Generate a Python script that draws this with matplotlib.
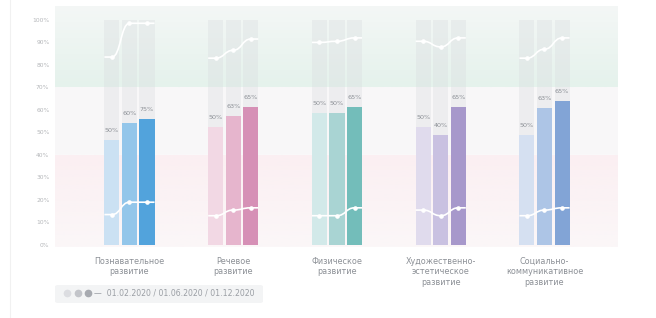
import numpy as np
import matplotlib
matplotlib.use("Agg")
import matplotlib.pyplot as plt
from matplotlib.path import Path
from matplotlib.patches import PathPatch, FancyBboxPatch
from matplotlib.lines import Line2D

plt.rcParams['font.family'] = ['DejaVu Sans']

## Data

categories = ["Познавательное\nразвитие", "Речевое\nразвитие", "Физическое\nразвитие",
              "Художественно-\nэстетическое\nразвитие", "Социально-\nкоммуникативное\nразвитие"]
dates = ["01.02.2020", "01.06.2020", "01.12.2020"]

# bar heights (%) for the three dates
bar_values = np.array([[46.5, 54, 56],
                       [52.5, 57.5, 61.5],
                       [58.5, 58.5, 61.5],
                       [52.5, 49, 61.5],
                       [49, 61, 64]])
# labels printed above bars
bar_labels = [["50%", "60%", "75%"],
              ["50%", "63%", "65%"],
              ["50%", "50%", "65%"],
              ["50%", "40%", "65%"],
              ["50%", "63%", "65%"]]
# upper and lower white lines (%)
upper_line = np.array([[83.5, 98.5, 98.5],
                       [83, 86.5, 91.5],
                       [90, 90.5, 92],
                       [90.5, 88, 92],
                       [83, 87, 92]])
lower_line = np.array([[13.5, 19, 19],
                       [13, 15.5, 16.5],
                       [13, 13, 16.5],
                       [15.5, 13, 16.5],
                       [13, 15.5, 16.5]])

colors = [["#cbe1f3", "#93c6ea", "#52a3dc"],
          ["#f2d8e4", "#e6b5cd", "#d690b6"],
          ["#d2e9e9", "#a9d4d3", "#73bdba"],
          ["#e0dbed", "#c9c1e1", "#a798cb"],
          ["#d5e0f1", "#adc5e6", "#82a4d6"]]

y_ticks = np.arange(0, 101, 10)

## Figure

fig = plt.figure(figsize=(6.56, 3.18), dpi=100)
ax = fig.add_axes([0.0838, 0.2233, 0.8582, 0.758])
ax.set_xlim(-0.718, 4.708)
ax.set_ylim(-0.9, 106.2)

# background bands (gradients)
def band(y0, y1, c_low, c_high):
    cmap = matplotlib.colors.LinearSegmentedColormap.from_list("b", [c_low, c_high])
    grad = np.linspace(0, 1, 64).reshape(-1, 1)
    ax.imshow(grad, cmap=cmap, aspect="auto", origin="lower",
              extent=(-0.718, 4.708, y0, y1), zorder=0)

band(-0.9, 40, "#fbf7f8", "#fbeff2")
band(40, 70, "#f9f8f9", "#f8f7f8")
band(70, 106.2, "#e5f2ec", "#f4f7f6")

x = np.arange(len(categories))
offset = 0.169
width = 0.145

for i in range(len(categories)):
    xs = x[i] + (np.arange(3) - 1) * offset
    # gray full-height columns
    ax.bar(xs, 100, width, color="#d9dcdf", alpha=0.35, zorder=1, linewidth=0)
    ax.bar(xs, bar_values[i], width, color=colors[i], zorder=2, linewidth=0)
    for j in range(3):
        ax.annotate(bar_labels[i][j], (xs[j], bar_values[i][j]), xytext=(0, 5),
                    textcoords="offset points", ha="center", va="bottom",
                    fontsize=4.6, color="#8c9096", zorder=5)
    # smooth white lines
    for line in (upper_line[i], lower_line[i]):
        verts = [(xs[0] - width / 2, line[0]), (xs[0], line[0])]
        codes = [Path.MOVETO, Path.LINETO]
        for j in range(2):
            xm = (xs[j] + xs[j + 1]) / 2
            verts += [(xm, line[j]), (xm, line[j + 1]), (xs[j + 1], line[j + 1])]
            codes += [Path.CURVE4] * 3
        verts.append((xs[2] + width / 2, line[2]))
        codes.append(Path.LINETO)
        ax.add_patch(PathPatch(Path(verts, codes), facecolor="none",
                               edgecolor="white", linewidth=1.2, zorder=3))
        ax.plot(xs, line, "o", color="white", markersize=2.3, zorder=4)

ax.set_yticks(y_ticks)
ax.set_yticklabels([f"{v}%" for v in y_ticks], fontsize=4.3, color="#b5b7ba")
ax.set_xticks(x)
ax.set_xticklabels(categories, fontsize=5.8, color="#8c9096", linespacing=1.25)
ax.tick_params(length=0, pad=7)
ax.tick_params(axis="y", pad=4)
for s in ax.spines.values():
    s.set_visible(False)

# faint card border
fig.add_artist(Line2D([10 / 656, 10 / 656], [0, 1], color="#f1f1f1", linewidth=0.8))

# legend
fig.add_artist(FancyBboxPatch((55 / 656, 1 - 303 / 318), 208 / 656, 18 / 318,
                              boxstyle="round,pad=0,rounding_size=0.005",
                              facecolor="#f3f4f5", edgecolor="none"))
for k, c in enumerate(["#dcdde1", "#c3c5ca", "#a7aab0"]):
    fig.add_artist(Line2D([(67 + k * 10.5) / 656], [1 - 293 / 318], marker="o",
                          markersize=4.5, color=c, linewidth=0))
fig.text(94 / 656, 1 - 293.5 / 318, "—  " + " / ".join(dates), fontsize=5.6,
         color="#9a9ea4", va="center", ha="left")

fig.savefig("out.png", dpi=100, facecolor="white")
